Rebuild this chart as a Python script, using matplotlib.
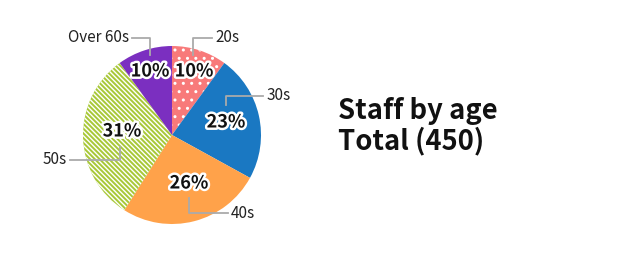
import matplotlib
matplotlib.use('Agg')
import matplotlib.pyplot as plt
import matplotlib.patheffects as pe

# data
categories = ['20s', '30s', '40s', '50s', 'Over 60s']
shares = [10, 23, 26, 31, 10]
colors = ['#f87a7a', '#1a78c2', '#ffa24a', '#a8c838', '#7b2fc0']
hatches = ['..', None, None, '\\' * 7, None]

plt.rcParams['font.family'] = ['Noto Sans CJK JP', 'DejaVu Sans']
plt.rcParams['hatch.linewidth'] = 1.0

W, H = 630, 269
fig = plt.figure(figsize=(W / 100, H / 100), dpi=100)

cx, cy, r = 172, 135, 89

# pie in its own axes so that the y axis is not flipped
pax = fig.add_axes([(cx - r) / W, 1 - (cy + r) / H, 2 * r / W, 2 * r / H], zorder=0)
wedges, _ = pax.pie(shares, colors=colors, startangle=90, counterclock=False,
                    radius=1, wedgeprops=dict(linewidth=0))
for w, h in zip(wedges, hatches):
    if h:
        w.set_hatch(h)
        w.set_edgecolor('white')
        w.set_linewidth(0)
pax.set_xlim(-1, 1)
pax.set_ylim(-1, 1)
pax.axis('off')

# overlay axes in pixel coordinates for labels and leader lines
ax = fig.add_axes([0, 0, 1, 1], zorder=1)
ax.set_xlim(0, W)
ax.set_ylim(H, 0)
ax.axis('off')
ax.patch.set_visible(False)

# percent labels (pixel positions)
pct_pos = [(194, 71), (226, 122), (189, 183), (122, 131), (150, 71)]
stroke = [pe.withStroke(linewidth=3.5, foreground='white')]
for (x, y), v in zip(pct_pos, shares):
    ax.text(x, y, f'{v}%', fontsize=13, fontweight='bold', ha='center', va='center',
            color='#111111', path_effects=stroke, zorder=5)

# leader lines and category labels
lc = '#aaaaaa'
leaders = [
    [(193, 55), (193, 38), (212, 38)],
    [(226, 105), (226, 96), (263, 96)],
    [(189, 198), (189, 213), (228, 213)],
    [(120, 147), (120, 160), (70, 160)],
    [(150, 55), (150, 38), (132, 38)],
]
label_pos = [(215, 38, 'left'), (267, 96, 'left'), (231, 213, 'left'),
             (67, 160, 'right'), (129, 38, 'right')]
for pts, (x, y, ha), name in zip(leaders, label_pos, categories):
    xs, ys = zip(*pts)
    ax.plot(xs, ys, color=lc, lw=1.3, zorder=4)
    ax.text(x, y, name, fontsize=11, ha=ha, va='center', color='#222222')

ax.text(338, 111, 'Staff by age', fontsize=19.7, fontweight='bold', va='center', ha='left', color='#111111')
ax.text(338, 141, 'Total (450)', fontsize=19.7, fontweight='bold', va='center', ha='left', color='#111111')

fig.savefig('out.png', dpi=100)
